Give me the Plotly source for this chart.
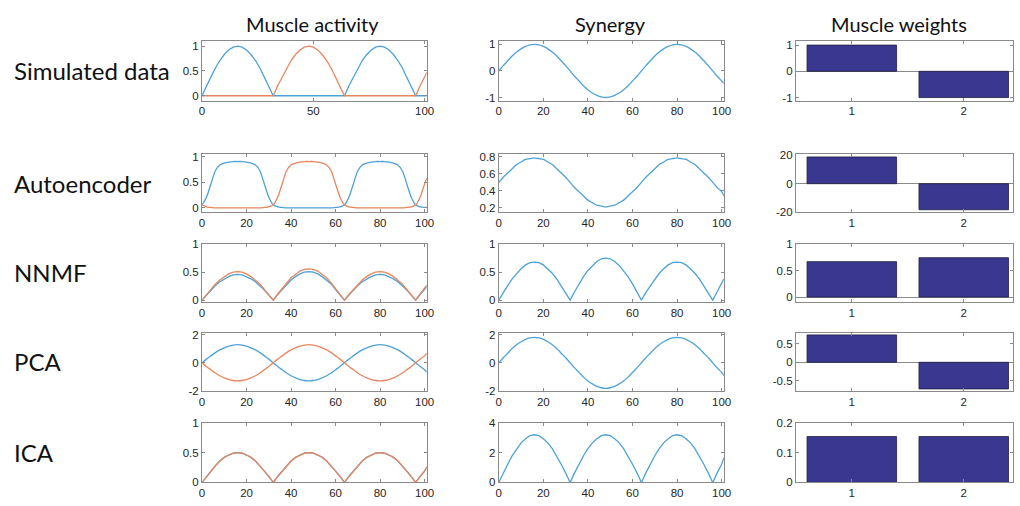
import plotly.graph_objects as go

# ---------------- data ----------------
x_vals = [0, 2, 4, 6, 8, 10, 12, 14, 16, 18, 20, 22, 24, 26, 28, 30,
          32, 34, 36, 38, 40, 42, 44, 46, 48, 50, 52, 54, 56, 58, 60, 62,
          64, 66, 68, 70, 72, 74, 76, 78, 80, 82, 84, 86, 88, 90, 92, 94,
          96, 98, 100, 101]

# Simulated data
sim_m1 = [0, .2, .38, .56, .71, .83, .92, .98, 1, .98, .92, .83, .71, .56, .38, .2,
          0, 0, 0, 0, 0, 0, 0, 0, 0, 0, 0, 0, 0, 0, 0, 0,
          0, .2, .38, .56, .71, .83, .92, .98, 1, .98, .92, .83, .71, .56, .38, .2,
          0, 0, 0, 0]
sim_m2 = [0, 0, 0, 0, 0, 0, 0, 0, 0, 0, 0, 0, 0, 0, 0, 0,
          0, .2, .38, .56, .71, .83, .92, .98, 1, .98, .92, .83, .71, .56, .38, .2,
          0, 0, 0, 0, 0, 0, 0, 0, 0, 0, 0, 0, 0, 0, 0, 0,
          0, .2, .38, .47]
sim_syn = [0, .2, .38, .56, .71, .83, .92, .98, 1, .98, .92, .83, .71, .56, .38, .2,
           0, -.2, -.38, -.56, -.71, -.83, -.92, -.98, -1, -.98, -.92, -.83, -.71, -.56, -.38, -.2,
           0, .2, .38, .56, .71, .83, .92, .98, 1, .98, .92, .83, .71, .56, .38, .2,
           0, -.2, -.38, -.47]
sim_w = [1, -1]

# Autoencoder
ae_m1 = [.06, .21, .47, .73, .84, .88, .90, .91, .91, .91, .90, .88, .84, .73, .47, .21,
         .06, .02, .01, 0, 0, 0, 0, 0, 0, 0, 0, 0, 0, 0, .01, .02,
         .06, .21, .47, .73, .84, .88, .90, .91, .91, .91, .90, .88, .84, .73, .47, .21,
         .06, .02, .01, .01]
ae_m2 = [.06, .02, .01, 0, 0, 0, 0, 0, 0, 0, 0, 0, 0, 0, .01, .02,
         .06, .21, .47, .73, .84, .88, .90, .91, .91, .91, .90, .88, .84, .73, .47, .21,
         .06, .02, .01, 0, 0, 0, 0, 0, 0, 0, 0, 0, 0, 0, .01, .02,
         .06, .21, .47, .58]
ae_syn = [.5, .56, .61, .66, .71, .74, .77, .78, .79, .78, .77, .74, .71, .66, .61, .56,
          .5, .44, .39, .34, .29, .26, .23, .22, .21, .22, .23, .26, .29, .34, .39, .44,
          .5, .56, .61, .66, .71, .74, .77, .78, .79, .78, .77, .74, .71, .66, .61, .56,
          .5, .44, .39, .34]
ae_w = [18.9, -18.4]

# NNMF
nn_m1 = [0, .09, .18, .26, .33, .38, .42, .45, .46, .45, .42, .38, .33, .26, .18, .09,
         0, .10, .19, .29, .36, .42, .47, .50, .51, .50, .47, .42, .36, .29, .19, .10,
         0, .09, .18, .26, .33, .38, .42, .45, .46, .45, .42, .38, .33, .26, .18, .09,
         0, .10, .19, .24]
nn_m2 = [0, .10, .19, .29, .36, .42, .47, .50, .51, .50, .47, .42, .36, .29, .19, .10,
         0, .11, .21, .31, .40, .46, .52, .55, .56, .55, .52, .46, .40, .31, .21, .11,
         0, .10, .19, .29, .36, .42, .47, .50, .51, .50, .47, .42, .36, .29, .19, .10,
         0, .11, .21, .27]
nn_syn = [0, .14, .26, .38, .48, .56, .63, .67, .68, .67, .63, .56, .48, .38, .26, .14,
          0, .15, .29, .42, .53, .62, .69, .74, .75, .74, .69, .62, .53, .42, .29, .15,
          0, .14, .26, .38, .48, .56, .63, .67, .68, .67, .63, .56, .48, .38, .26, .14,
          0, .15, .29, .38]
nn_w = [0.67, 0.745]

# PCA
pca_m1 = [0, .26, .49, .72, .91, 1.06, 1.18, 1.25, 1.28, 1.25, 1.18, 1.06, .91, .72, .49, .26,
          0, -.26, -.49, -.72, -.91, -1.06, -1.18, -1.25, -1.28, -1.25, -1.18, -1.06, -.91, -.72, -.49, -.26,
          0, .26, .49, .72, .91, 1.06, 1.18, 1.25, 1.28, 1.25, 1.18, 1.06, .91, .72, .49, .26,
          0, -.26, -.49, -.66]
pca_m2 = [0, -.26, -.49, -.72, -.91, -1.06, -1.18, -1.25, -1.28, -1.25, -1.18, -1.06, -.91, -.72, -.49, -.26,
          0, .26, .49, .72, .91, 1.06, 1.18, 1.25, 1.28, 1.25, 1.18, 1.06, .91, .72, .49, .26,
          0, -.26, -.49, -.72, -.91, -1.06, -1.18, -1.25, -1.28, -1.25, -1.18, -1.06, -.91, -.72, -.49, -.26,
          0, .26, .49, .66]
pca_syn = [0, .36, .68, 1.01, 1.28, 1.49, 1.66, 1.76, 1.8, 1.76, 1.66, 1.49, 1.28, 1.01, .68, .36,
           0, -.36, -.68, -1.01, -1.28, -1.49, -1.66, -1.76, -1.8, -1.76, -1.66, -1.49, -1.28, -1.01, -.68, -.36,
           0, .36, .68, 1.01, 1.28, 1.49, 1.66, 1.76, 1.8, 1.76, 1.66, 1.49, 1.28, 1.01, .68, .36,
           0, -.36, -.68, -.9]
pca_w = [0.74, -0.72]

# ICA
ica_m1 = [0, .10, .19, .28, .36, .42, .46, .49, .5, .49, .46, .42, .36, .28, .19, .10,
          0, .10, .19, .28, .36, .42, .46, .49, .5, .49, .46, .42, .36, .28, .19, .10,
          0, .10, .19, .28, .36, .42, .46, .49, .5, .49, .46, .42, .36, .28, .19, .10,
          0, .10, .19, .26]
ica_m2 = [0, .10, .19, .28, .36, .42, .46, .49, .5, .49, .46, .42, .36, .28, .19, .10,
          0, .10, .19, .28, .36, .42, .46, .49, .5, .49, .46, .42, .36, .28, .19, .10,
          0, .10, .19, .28, .36, .42, .46, .49, .5, .49, .46, .42, .36, .28, .19, .10,
          0, .10, .19, .26]
ica_syn = [0, .64, 1.22, 1.79, 2.27, 2.66, 2.94, 3.14, 3.2, 3.14, 2.94, 2.66, 2.27, 1.79, 1.22, .64,
           0, .64, 1.22, 1.79, 2.27, 2.66, 2.94, 3.14, 3.2, 3.14, 2.94, 2.66, 2.27, 1.79, 1.22, .64,
           0, .64, 1.22, 1.79, 2.27, 2.66, 2.94, 3.14, 3.2, 3.14, 2.94, 2.66, 2.27, 1.79, 1.22, .64,
           0, .64, 1.22, 1.65]
ica_w = [0.154, 0.154]

muscles = ["1", "2"]
col_titles = ["Muscle activity", "Synergy", "Muscle weights"]
row_labels = ["Simulated data", "Autoencoder", "NNMF", "PCA", "ICA"]

rows = [
    (sim_m1, sim_m2, sim_syn, sim_w),
    (ae_m1, ae_m2, ae_syn, ae_w),
    (nn_m1, nn_m2, nn_syn, nn_w),
    (pca_m1, pca_m2, pca_syn, pca_w),
    (ica_m1, ica_m2, ica_syn, ica_w),
]
# which series are smooth (no rectification cusps): (muscle, synergy)
smooth = [(False, True), (True, True), (False, False), (True, True), (False, False)]

m_y = [([-0.1, 1.1], [0, 0.5, 1], ["0", "0.5", "1"]),
       ([-0.08, 1.05], [0, 0.5, 1], ["0", "0.5", "1"]),
       ([-0.03, 1.0], [0, 0.5, 1], ["0", "0.5", "1"]),
       ([-2, 2.1], [-2, 0, 2], ["-2", "0", "2"]),
       ([0, 1], [0, 0.5, 1], ["0", "0.5", "1"])]
s_y = [([-1.12, 1.12], [-1, 0, 1], ["-1", "0", "1"]),
       ([0.15, 0.83], [0.2, 0.4, 0.6, 0.8], ["0.2", "0.4", "0.6", "0.8"]),
       ([-0.03, 1.0], [0, 0.5, 1], ["0", "0.5", "1"]),
       ([-2, 2.1], [-2, 0, 2], ["-2", "0", "2"]),
       ([0, 4], [0, 2, 4], ["0", "2", "4"])]
w_y = [([-1.12, 1.15], [-1, 0, 1], ["-1", "0", "1"]),
       ([-20, 20.7], [-20, 0, 20], ["-20", "0", "20"]),
       ([-0.09, 1.0], [0, 0.5, 1], ["0", "0.5", "1"]),
       ([-0.78, 0.79], [-0.5, 0, 0.5], ["-0.5", "0", "0.5"]),
       ([0, 0.2], [0, 0.1, 0.2], ["0", "0.1", "0.2"])]

# ---------------- layout geometry (page pixels) ----------------
W, H = 1020, 506
col_px = [(201, 428), (500.7, 728), (800.7, 1020)]
row_px = [(36, 97), (152, 211), (244, 303), (335, 394.5), (427, 488)]

BLUE = "#4ea2d8"
ORANGE = "#e8865e"
BAR = "#3a3790"
AX = "#8a8a8a"
TXT = "#262626"

fig = go.Figure()
layout = {}


def axname(n, kind):
    return kind if n == 1 else f"{kind}{n}"


def line(sm, color):
    return dict(color=color, width=1.3, shape="spline" if sm else "linear", smoothing=0.8)


for r, (m1, m2, syn, w) in enumerate(rows):
    for c in range(3):
        n = r * 3 + c + 1
        xa, ya = axname(n, "x"), axname(n, "y")
        common = dict(showline=True, linecolor=AX, linewidth=1, mirror="ticks",
                      ticks="inside", ticklen=3, tickcolor=AX, showgrid=False,
                      zeroline=False, tickfont=dict(family="Liberation Sans, Arial", size=11.5, color=TXT),
                      fixedrange=True)
        xdom = [col_px[c][0] / W, min(col_px[c][1] / W, 1.0)]
        ydom = [1 - row_px[r][1] / H, 1 - row_px[r][0] / H]
        if c < 2:
            if c == 0:
                fig.add_trace(go.Scatter(x=x_vals, y=m1, mode="lines", line=line(smooth[r][0], BLUE),
                                         xaxis=xa, yaxis=ya, showlegend=False, hoverinfo="skip"))
                fig.add_trace(go.Scatter(x=x_vals, y=m2, mode="lines", line=line(smooth[r][0], ORANGE),
                                         xaxis=xa, yaxis=ya, showlegend=False, hoverinfo="skip"))
                yr = m_y[r]
            else:
                fig.add_trace(go.Scatter(x=x_vals, y=syn, mode="lines", line=line(smooth[r][1], BLUE),
                                         xaxis=xa, yaxis=ya, showlegend=False, hoverinfo="skip"))
                yr = s_y[r]
            xt = [0, 50, 100] if (r == 0 and c == 0) else [0, 20, 40, 60, 80, 100]
            layout[axname(n, "xaxis")] = dict(common, domain=xdom, range=[0, 101], anchor=ya,
                                              tickvals=xt, ticktext=[str(v) for v in xt])
            layout[axname(n, "yaxis")] = dict(common, domain=ydom, range=yr[0], anchor=xa,
                                              tickvals=yr[1], ticktext=yr[2])
        else:
            fig.add_trace(go.Bar(x=[1, 2], y=w, width=0.8,
                                 marker=dict(color=BAR, line=dict(color="#1e1e3c", width=0.8)),
                                 xaxis=xa, yaxis=ya, showlegend=False, hoverinfo="skip"))
            yr = w_y[r]
            layout[axname(n, "xaxis")] = dict(common, domain=xdom, range=[0.5, 2.44], anchor=ya,
                                              tickvals=[1, 2], ticktext=muscles)
            layout[axname(n, "yaxis")] = dict(common, domain=ydom, range=yr[0], anchor=xa,
                                              tickvals=yr[1], ticktext=yr[2],
                                              zeroline=True, zerolinecolor=AX, zerolinewidth=1)

annotations = []
title_x = [313, 614, 905]
for t, px in zip(col_titles, title_x):
    annotations.append(dict(text=t, x=px / W, y=1 - 18 / H, xref="paper", yref="paper",
                            xanchor="center", yanchor="middle", showarrow=False,
                            font=dict(family="Lato, Open Sans", size=20, color="#111111")))
row_y = [66, 182, 273, 364, 457]
for t, py in zip(row_labels, row_y):
    annotations.append(dict(text=t, x=9 / W, y=1 - py / H, xref="paper", yref="paper",
                            xanchor="left", yanchor="middle", showarrow=False,
                            font=dict(family="Lato, Open Sans", size=24, color="#111111")))

fig.update_layout(width=W, height=H, margin=dict(l=0, r=0, t=0, b=0),
                  paper_bgcolor="white", plot_bgcolor="white", bargap=0,
                  annotations=annotations, **layout)

fig.write_html("out.html",
               config={"displayModeBar": False, "staticPlot": True},
               post_script="document.body.style.margin='0';document.body.style.padding='0';"
                           "document.body.style.overflow='hidden';")
